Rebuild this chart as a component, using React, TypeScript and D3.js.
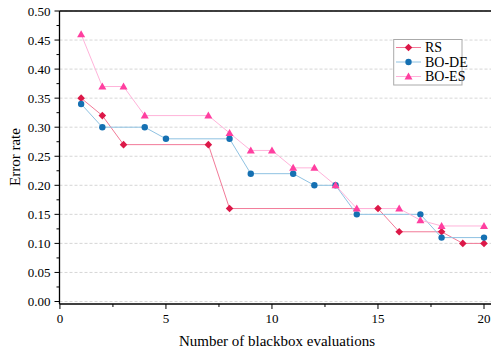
import React from "react";
import * as d3 from "d3";

const rsX = [1, 2, 3, 7, 8, 15, 16, 18, 19, 20];
const rsY = [0.35, 0.32, 0.27, 0.27, 0.16, 0.16, 0.12, 0.12, 0.10, 0.10];
const deX = [1, 2, 4, 5, 8, 9, 11, 12, 13, 14, 17, 18, 20];
const deY = [0.34, 0.30, 0.30, 0.28, 0.28, 0.22, 0.22, 0.20, 0.20, 0.15, 0.15, 0.11, 0.11];
const esX = [1, 2, 3, 4, 7, 8, 9, 10, 11, 12, 13, 14, 16, 17, 18, 20];
const esY = [0.46, 0.37, 0.37, 0.32, 0.32, 0.29, 0.26, 0.26, 0.23, 0.23, 0.20, 0.16, 0.16, 0.14, 0.13, 0.13];
const xTicks = [0, 5, 10, 15, 20];
const yTicks = [0, 0.05, 0.1, 0.15, 0.2, 0.25, 0.3, 0.35, 0.4, 0.45, 0.5];
const seriesNames = ["RS", "BO-DE", "BO-ES"];

const W = 491, H = 354;
const L = 59.5, R = 491, T = 11, B = 304;
const x = d3.scaleLinear().domain([-0.02, 20.33]).range([L, R]);
const y = d3.scaleLinear().domain([0, 0.5]).range([301.5, T]);

const FONT = "'Liberation Serif', 'Times New Roman', serif";

const series = [
  { name: seriesNames[0], xs: rsX, ys: rsY, line: "#F27A98", mark: "#DC1848", shape: "diamond" },
  { name: seriesNames[1], xs: deX, ys: deY, line: "#8FC2E2", mark: "#1570B2", shape: "circle" },
  { name: seriesNames[2], xs: esX, ys: esY, line: "#FFB3DA", mark: "#FF3FA0", shape: "triangle" },
];

function Marker({ shape, cx, cy, color }: { shape: string; cx: number; cy: number; color: string }) {
  if (shape === "circle") return <circle cx={cx} cy={cy} r={3.2} fill={color} />;
  if (shape === "diamond") {
    const s = 3.8;
    return <path d={`M${cx},${cy - s}L${cx + s},${cy}L${cx},${cy + s}L${cx - s},${cy}Z`} fill={color} />;
  }
  const s = 4;
  return <path d={`M${cx},${cy - s}L${cx + s},${cy + s * 0.75}L${cx - s},${cy + s * 0.75}Z`} fill={color} />;
}

export default function App() {
  const line = d3.line<[number, number]>().x((d) => x(d[0])).y((d) => y(d[1]));
  const minorX = d3.range(0, 21, 2.5).filter((v) => v % 5 !== 0);
  const minorY = d3.range(0.025, 0.5, 0.05);
  return (
    <svg width={W} height={H} style={{ position: "absolute", left: 0, top: 0 }} fontFamily={FONT}>
      <rect width={W} height={H} fill="#fff" />
      {yTicks.map((t) => (
        <line key={"g" + t} x1={L} x2={R} y1={y(t)} y2={y(t)} stroke="#cccccc" strokeWidth={0.8} strokeDasharray="3,2" />
      ))}
      {series.map((s) => (
        <path key={s.name} d={line(s.xs.map((v, i) => [v, s.ys[i]]) as [number, number][]) || ""} fill="none" stroke={s.line} strokeWidth={1} />
      ))}
      {series.map((s) =>
        s.xs.map((v, i) => <Marker key={s.name + i} shape={s.shape} cx={x(v)} cy={y(s.ys[i])} color={s.mark} />)
      )}
      {/* axes */}
      <line x1={L} x2={R} y1={T} y2={T} stroke="#000" strokeWidth={1.3} />
      <line x1={L} x2={L} y1={T} y2={B} stroke="#000" strokeWidth={1.3} />
      <line x1={L} x2={R} y1={B} y2={B} stroke="#000" strokeWidth={1.3} />
      {yTicks.map((t) => (
        <g key={"yt" + t}>
          <line x1={L - 5} x2={L} y1={y(t)} y2={y(t)} stroke="#000" strokeWidth={1} />
          <text x={L - 9} y={y(t) + 4.5} textAnchor="end" fontSize={13}>{t.toFixed(2)}</text>
        </g>
      ))}
      {minorY.map((t) => (
        <line key={"my" + t} x1={L - 3} x2={L} y1={y(t)} y2={y(t)} stroke="#000" strokeWidth={1} />
      ))}
      {xTicks.map((t) => (
        <g key={"xt" + t}>
          <line x1={x(t)} x2={x(t)} y1={B} y2={B + 5} stroke="#000" strokeWidth={1} />
          <text x={x(t)} y={B + 19} textAnchor="middle" fontSize={13}>{t}</text>
        </g>
      ))}
      {minorX.map((t) => (
        <line key={"mx" + t} x1={x(t)} x2={x(t)} y1={B} y2={B + 3} stroke="#000" strokeWidth={1} />
      ))}
      <text x={277} y={346} textAnchor="middle" fontSize={15}>Number of blackbox evaluations</text>
      <text transform={`translate(20,157) rotate(-90)`} textAnchor="middle" fontSize={15}>Error rate</text>
      {/* legend */}
      <rect x={393.7} y={39.5} width={68.3} height={45.5} fill="#fff" stroke="#aaaaaa" strokeWidth={1} />
      {series.map((s, i) => {
        const ly = 47.5 + i * 14.5;
        return (
          <g key={"lg" + s.name}>
            <line x1={396} x2={421} y1={ly} y2={ly} stroke={s.line} strokeWidth={1} />
            <Marker shape={s.shape} cx={408.5} cy={ly} color={s.mark} />
            <text x={425} y={ly + 4.5} fontSize={14}>{s.name}</text>
          </g>
        );
      })}
    </svg>
  );
}
